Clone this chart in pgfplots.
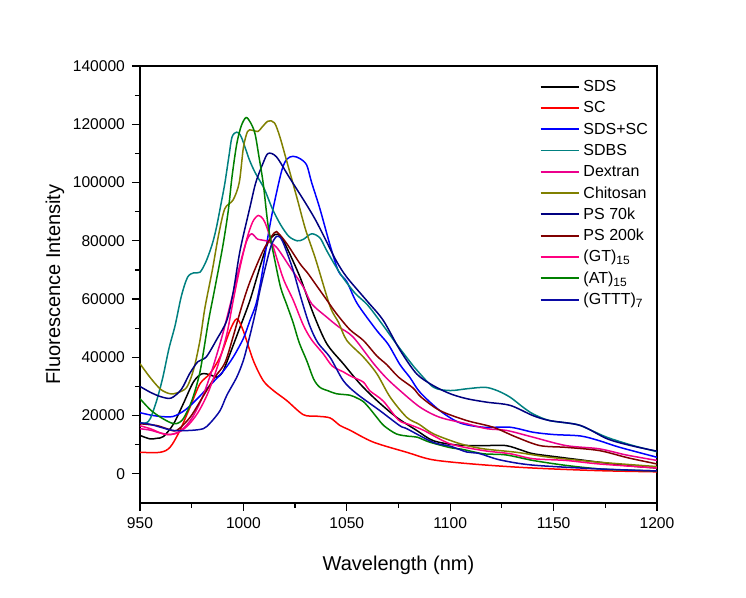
\documentclass[border=0pt]{standalone}
\usepackage{pgfplots}
\pgfplotsset{compat=1.18}
\usepackage{fontspec}
\setmainfont{Liberation Sans}

\definecolor{cSDBS}{RGB}{0,128,128}
\definecolor{cChit}{RGB}{128,128,0}
\definecolor{cNavy}{RGB}{0,0,128}
\definecolor{cWine}{RGB}{128,0,0}
\definecolor{cPink}{RGB}{255,0,128}
\definecolor{cGreen}{RGB}{0,128,0}
\definecolor{cRoyal}{RGB}{10,10,165}

\begin{document}
\begin{tikzpicture}
\begin{axis}[
    scale only axis,
    width=258.5pt, height=218.5pt,
    xmin=950, xmax=1200, ymin=-10000, ymax=140000,
    xtick={950,1000,...,1200}, minor x tick num=1,
    ytick={0,20000,...,140000}, minor y tick num=1,
    tick align=outside, xtick pos=left, ytick pos=left,
    major tick length=4pt, minor tick length=2.5pt,
    scaled y ticks=false,
    /pgf/number format/fixed,
    /pgf/number format/1000 sep={},
    /pgf/number format/assume math mode=true,
    tick label style={font=\fontsize{7.8}{9}\selectfont},
    label style={font=\fontsize{10.25}{12}\selectfont},
    xlabel={Wavelength (nm)},
    ylabel={Fluorescence Intensity},
    every axis x label/.style={at={(axis description cs:0.5,-0.1419)}, anchor=center},
    every axis y label/.style={at={(axis description cs:-0.1644,0.5)}, anchor=center, rotate=90},
    axis line style={line width=0.6pt},
    every tick/.style={line width=0.6pt, black},
    every axis plot/.append style={line width=0.75pt, smooth},
    legend cell align=left,
    legend image code/.code={\draw[#1, line width=0.95pt] (0pt,0.25pt) -- (19pt,0.25pt);},
    legend style={draw=none, fill=none, at={(rel axis cs:0.7605,0.979)}, anchor=north west,
        font=\fontsize{8}{9.6}\selectfont,
        nodes={inner sep=0pt, text height=6pt, text depth=1.5pt},
        row sep=3.15pt,
        /tikz/every odd column/.append style={column sep=2pt}},
]

% SDS
\addplot[black] coordinates {
(950,13200)(954.8,12000)(958,12200)(961.3,12800)(966.1,17000)(970.9,24000)(975.8,31500)(979.8,34300)(984,34000)(987.1,33200)(990,35000)(993.5,41200)(998.4,50400)(1003.2,59600)(1008,71000)(1012,79500)(1015.5,82200)(1018,81500)(1020.9,77800)(1027.4,67500)(1033.8,55000)(1040.3,44700)(1048.3,37800)(1056.4,30900)(1064.5,25200)(1074.1,19400)(1083.8,14900)(1091.8,11400)(1103,9900)(1116,9700)(1127,9700)(1135,8000)(1140.2,6900)(1153,5700)(1172,4000)(1186,2800)(1200,2000)
};
% SC
\addplot[red] coordinates {
(950,7400)(959.7,7400)(964.5,9100)(969.3,14900)(974.2,22900)(979,30900)(983.8,34400)(988.7,40100)(993.5,49200)(996.8,53200)(999.9,49200)(1004.8,38900)(1009.6,32000)(1014.5,28600)(1020.9,25200)(1029,20300)(1035.4,19800)(1041.9,19200)(1046.7,16600)(1051.5,15000)(1062.8,10900)(1079,7400)(1091.8,4800)(1114,3200)(1140,2000)(1172,1100)(1200,700)
};
% SDS+SC
\addplot[blue] coordinates {
(950,21000)(955,20200)(960,19700)(966,19700)(972,22000)(978,26000)(984,30500)(990,35000)(995,40000)(1000,46500)(1003.2,52700)(1006,58000)(1008,64500)(1010,73000)(1012,82000)(1014.5,91500)(1018.5,104000)(1021,108000)(1024,109000)(1027.4,108200)(1030.6,106000)(1033,100000)(1037,91000)(1041.9,78500)(1046,69500)(1050,66000)(1055,58500)(1064.5,49200)(1070,44500)(1075.7,37500)(1080.6,33000)(1085.4,28000)(1095,21700)(1104.7,17500)(1116,16000)(1129,16000)(1140,14300)(1150,13500)(1163,13000)(1172,11400)(1182,9100)(1200,5700)
};
% SDBS
\addplot[cSDBS] coordinates {
(950,17500)(953,17500)(955,19000)(958,25000)(961,33000)(964,43000)(967,51000)(970,61000)(973,67500)(976,69000)(979,69200)(982,73000)(985,79000)(987,84700)(989,92000)(991,99600)(993,109000)(994.5,115600)(996.8,117300)(999,115600)(1003,107600)(1006,103000)(1010,98000)(1014,91000)(1018,85500)(1022,81500)(1026,80000)(1029,80500)(1033,82400)(1037,81000)(1040,77000)(1044,72000)(1048,67500)(1054,62000)(1060,58000)(1067,51500)(1074,44600)(1080,39000)(1084,35500)(1092,29700)(1100,28600)(1108,29200)(1117,29700)(1123,28500)(1129,26300)(1135,23000)(1140,20600)(1148,18300)(1161,17000)(1168,15000)(1176,12500)(1188,9800)(1200,7600)
};
% Dextran
\addplot[magenta] coordinates {
(950,15500)(955,15000)(960,14000)(965,13500)(970,15000)(975,19000)(980,26000)(985,36000)(990,48000)(995,62000)(998.4,72000)(1001.6,80000)(1004,82400)(1007,80500)(1011,80000)(1016,77800)(1022.5,71000)(1029,64100)(1033,58400)(1040.3,53800)(1046,50500)(1053,47000)(1062.8,38000)(1069,33000)(1075.7,28600)(1085.4,22900)(1095,19400)(1108,17200)(1117.7,15500)(1127.3,14900)(1140,12600)(1156,9700)(1172,8600)(1185,6500)(1200,4600)
};
% Chitosan
\addplot[cChit] coordinates {
(950,37800)(955,33000)(960,29000)(964.5,27500)(968,27800)(972.6,29700)(976,36000)(979,45800)(981.4,57000)(985,70000)(988,82000)(991,91000)(995,94000)(998,100000)(1000,112000)(1002,117500)(1004,118000)(1007,117500)(1009,119000)(1012,121100)(1015,120500)(1017.5,116000)(1020.5,108500)(1025.8,95000)(1030,84000)(1035,73500)(1041.9,57500)(1046,52000)(1050,45800)(1058,40100)(1064.5,34400)(1071,26300)(1079,19400)(1085,17000)(1092,13700)(1105,10300)(1116,8600)(1132,7400)(1148,5700)(1172,4000)(1200,2500)
};
% PS 70k
\addplot[cNavy] coordinates {
(950,30000)(955,28000)(960,26500)(965,26000)(970,29000)(974,34400)(978,38500)(982,40100)(987,46000)(992,52700)(995,62000)(998.4,76700)(1003.2,91600)(1006,100000)(1009.6,106800)(1012,110000)(1016,108800)(1022,102000)(1030,93000)(1035,87000)(1040,80000)(1045,73000)(1050,67500)(1059.6,59500)(1067.6,52700)(1075.7,42500)(1083.8,34300)(1091.8,30300)(1100,27500)(1108,25800)(1117.7,24600)(1129,23500)(1140,20000)(1148,18300)(1163,16600)(1176,12000)(1188,9600)(1200,7800)
};
% PS 200k
\addplot[cWine] coordinates {
(950,17200)(958,16600)(963,15500)(967.7,14900)(974.2,19400)(980,26000)(986,33000)(991,38000)(995,47000)(999,57000)(1003.2,66000)(1009.6,76700)(1015,82800)(1017,82500)(1021,79000)(1027.4,72100)(1031,69000)(1035,65000)(1040,60000)(1045,55000)(1051.5,49500)(1058,45800)(1064.5,40500)(1069.3,37500)(1075,33200)(1082,29500)(1086,26300)(1095.1,21700)(1108,18300)(1120.8,16000)(1132,12600)(1143.4,9700)(1156,9100)(1172,8000)(1186,5500)(1200,3400)
};
% (GT)15
\addplot[cPink] coordinates {
(950,16500)(955,15500)(960,14000)(963,13500)(968,14000)(973,16500)(978,21000)(983,28000)(988,38000)(992,48000)(995.1,59600)(998.4,71000)(1001.6,80500)(1004.5,86500)(1007.2,88700)(1009.5,87500)(1011.3,84700)(1014.5,77800)(1019.3,67000)(1024.1,59600)(1029,51000)(1033,46000)(1038.6,41200)(1043,37000)(1048.3,35000)(1052,33500)(1058,31500)(1061,28600)(1067.6,25000)(1075,18500)(1080,17000)(1087,15000)(1100,10300)(1116,8000)(1129,6900)(1140,5200)(1156,4600)(1172,3400)(1200,2000)
};
% (AT)15
\addplot[cGreen] coordinates {
(950,25800)(955,22000)(960,19400)(965,17500)(968,17300)(971,19000)(975,25000)(979,35000)(983,52000)(986,63000)(990,78000)(992.7,90400)(994.5,102000)(996.8,113300)(999,119500)(1001.3,122300)(1003.5,120500)(1005.6,116800)(1007.5,109000)(1009.6,99600)(1012,85000)(1015,74000)(1018,64000)(1021,58000)(1024,52000)(1027,45000)(1030.6,38900)(1034,32500)(1037,29700)(1041,28500)(1045,27500)(1051.5,27000)(1055,26000)(1058,24800)(1061,22500)(1064.5,19400)(1068,16500)(1074,13700)(1080,12900)(1084,12600)(1090,10900)(1100,9000)(1106,8400)(1116,6900)(1127,6500)(1140,4600)(1156,2900)(1172,1700)(1185,1300)(1200,1000)
};
% (GTTT)7
\addplot[cRoyal] coordinates {
(950,17500)(955,17000)(960,16000)(966,14900)(974,14900)(980.6,15500)(984,17500)(988.7,21700)(992,27000)(996.8,33200)(1000,39000)(1003,47000)(1006,56000)(1008,63000)(1011,72000)(1013.5,78500)(1016,81500)(1018,81000)(1020,78000)(1024,70000)(1028,60000)(1032,51000)(1036,45000)(1041.9,40000)(1048.3,32000)(1054.8,27500)(1066,21700)(1075.7,16500)(1079,15500)(1091.8,10800)(1100,9500)(1108,7500)(1114,7000)(1124,4800)(1140,3000)(1172,1700)(1200,1000)
};

\legend{SDS, SC, SDS+SC, SDBS, Dextran, Chitosan, PS 70k, PS 200k,
        (GT)\textsubscript{15}, (AT)\textsubscript{15}, (GTTT)\textsubscript{7}}
\end{axis}
\path ([shift={(-70pt,-47.5pt)}]current axis.south west)
   rectangle ([shift={(44.5pt,33pt)}]current axis.north east);
\end{tikzpicture}
\end{document}
